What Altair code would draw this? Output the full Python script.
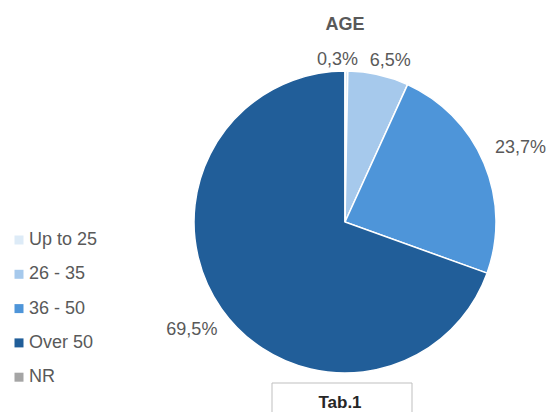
import altair as alt
import pandas as pd

categories = ["Up to 25", "26 - 35", "36 - 50", "Over 50", "NR"]
values = [0.3, 6.5, 23.7, 69.5, 0.0]
labels = ["0,3%", "6,5%", "23,7%", "69,5%", ""]
colors = ["#DDEBF7", "#A6C9EC", "#4E95D9", "#215E99", "#A5A5A5"]

df = pd.DataFrame({
    "category": categories,
    "value": values,
    "label": labels,
    "order": list(range(len(categories))),
})

FONT = "Liberation Sans"
GRAY = "#595959"
R = 151

base = alt.Chart(df).transform_joinaggregate(
    total="sum(value)"
).transform_window(
    cum="sum(value)", sort=[alt.SortField("order")], frame=[None, 0]
).transform_calculate(
    mid="(datum.cum - datum.value/2) / datum.total * 2 * PI",
    r="161 + 32 * abs(sin(datum.mid))",
)

color = alt.Color(
    "category:N",
    scale=alt.Scale(domain=categories, range=colors),
    sort=categories,
    legend=alt.Legend(
        title=None, orient="none", legendX=-184, legendY=160,
        symbolType="square", symbolSize=81, symbolStrokeWidth=0,
        labelFont=FONT, labelFontSize=18, labelColor=GRAY,
        labelOffset=1, rowPadding=16.3,
    ),
)

arcs = base.mark_arc(outerRadius=R, stroke="white", strokeWidth=1.5).encode(
    theta=alt.Theta("value:Q", stack=True),
    color=color,
    order=alt.Order("order:Q"),
)

text_common = dict(font=FONT, fontSize=18, color=GRAY, align="center", baseline="middle")


def label_layer(cond, dx=0, dy=0):
    return base.transform_filter(cond).mark_text(dx=dx, dy=dy, **text_common).encode(
        theta=alt.Theta("mid:Q", scale=None, stack=None),
        radius=alt.Radius("r:Q", scale=None),
        text="label:N",
    )


labels_small = label_layer("datum.value > 0 && datum.value < 1", dx=-9, dy=-1)
labels_top = label_layer("datum.value >= 1 && datum.mid < 0.5", dx=8, dy=3)
labels_rest = label_layer("datum.value >= 1 && datum.mid >= 0.5")

ann = pd.DataFrame({"t": ["AGE"]})
title = alt.Chart(ann).mark_text(
    font=FONT, fontSize=18, fontWeight="bold", color=GRAY, align="center", baseline="middle"
).encode(x=alt.value(151), y=alt.value(-46), text="t:N")

box = alt.Chart(ann).mark_rect(fill="white", stroke="#BFBFBF", strokeWidth=1).encode(
    x=alt.value(78), x2=alt.value(218), y=alt.value(312), y2=alt.value(360)
)
tab = alt.Chart(pd.DataFrame({"t": ["Tab.1"]})).mark_text(
    font=FONT, fontSize=17, fontWeight="bold", color="#262626", align="center", baseline="middle"
).encode(x=alt.value(146), y=alt.value(332), text="t:N")

chart = alt.layer(arcs, labels_small, labels_top, labels_rest, title, box, tab).properties(
    width=302, height=302,
    autosize=alt.AutoSizeParams(type="none"),
    padding={"left": 194, "top": 71, "right": 53, "bottom": 39},
    background="white",
).resolve_scale(theta="independent", radius="independent").configure_view(stroke=None)

chart.save("out.html", embed_options={"renderer": "svg", "actions": False})
